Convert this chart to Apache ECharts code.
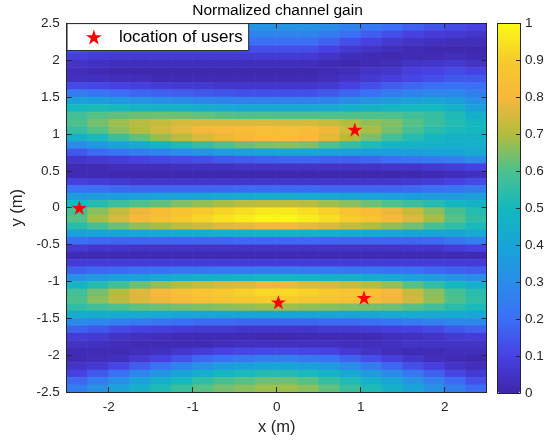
<!DOCTYPE html>
<html>
<head>
<meta charset="utf-8">
<script src="https://cdn.jsdelivr.net/npm/echarts@6/dist/echarts.min.js"></script>
<style>
html,body{margin:0;padding:0;background:#fff;}
#chart{width:555px;height:441px;}
</style>
</head>
<body>
<div id="chart"></div>
<script>
// ---- grid of the image (cell centres) ----
const xCenters = [-2.375,-2.125,-1.875,-1.625,-1.375,-1.125,-0.875,-0.625,-0.375,-0.125,0.125,0.375,0.625,0.875,1.125,1.375,1.625,1.875,2.125,2.375];
const yCenters = [2.45,2.35,2.25,2.15,2.05,1.95,1.85,1.75,1.65,1.55,1.45,1.35,1.25,1.15,1.05,0.95,0.85,0.75,0.65,0.55,0.45,0.35,0.25,0.15,0.05,-0.05,-0.15,-0.25,-0.35,-0.45,-0.55,-0.65,-0.75,-0.85,-0.95,-1.05,-1.15,-1.25,-1.35,-1.45,-1.55,-1.65,-1.75,-1.85,-1.95,-2.05,-2.15,-2.25,-2.35,-2.45];

// ---- normalized gain read column by column (top row y=2.45 to bottom row y=-2.45) ----
const gainXm2375 = [.28,.25,.2,.15,.09,.05,.03, .04,.12,.24,.38,.5,.58,.6,.56,.46,.3,.15,.06,.02, .02,.09,.21,.35,.49,.59,.61,.54,.38,.2,.07, .02,.08,.17,.32,.48,.58,.6,.55,.44,.3,.17,.08, .05,.02,.02,.05,.1,.18,.25];
const gainXm2125 = [.3,.26,.2,.14,.08,.04,.02, .04,.11,.22,.37,.51,.61,.64,.61,.51,.35,.19,.07,.02, .02,.08,.2,.36,.53,.66,.69,.59,.39,.19,.06, .02,.08,.18,.35,.53,.64,.66,.58,.44,.28,.15,.07, .04,.02,.03,.07,.15,.24,.32];
const gainXm1875 = [.31,.26,.2,.13,.07,.03,.01, .03,.1,.2,.35,.5,.62,.68,.66,.57,.4,.22,.08,.03, .01,.07,.19,.37,.57,.72,.75,.63,.4,.18,.06, .02,.08,.19,.38,.58,.7,.71,.6,.43,.26,.12,.05, .03,.02,.04,.11,.21,.31,.39];
const gainXm1625 = [.33,.27,.2,.13,.07,.03,.01, .03,.09,.18,.33,.48,.63,.71,.7,.62,.44,.25,.1,.03, .01,.06,.18,.38,.6,.78,.81,.67,.41,.18,.05, .02,.08,.2,.4,.63,.76,.76,.62,.43,.24,.1,.04, .02,.03,.07,.16,.28,.38,.46];
const gainXm1375 = [.33,.27,.2,.13,.07,.03,.01, .02,.08,.17,.31,.47,.63,.73,.74,.67,.48,.27,.11,.03, .01,.06,.18,.39,.62,.82,.85,.69,.42,.18,.05, .02,.08,.21,.42,.67,.8,.79,.63,.42,.22,.09,.03, .02,.04,.1,.21,.34,.45,.52];
const gainXm1125 = [.33,.27,.2,.13,.07,.03,.01, .02,.07,.16,.3,.46,.63,.75,.77,.71,.52,.3,.12,.04, .01,.06,.18,.4,.65,.86,.89,.72,.43,.18,.05, .02,.08,.22,.44,.7,.84,.83,.64,.41,.2,.08,.02, .02,.06,.14,.27,.4,.5,.57];
const gainXm0875 = [.33,.27,.2,.13,.07,.03,.01, .02,.07,.15,.28,.44,.62,.76,.8,.75,.56,.33,.13,.04, .01,.06,.18,.41,.67,.89,.92,.74,.44,.18,.05, .02,.08,.22,.46,.73,.87,.85,.65,.41,.19,.07,.02, .02,.08,.18,.32,.45,.55,.61];
const gainXm0625 = [.33,.27,.2,.13,.07,.03,.01, .02,.06,.14,.27,.42,.61,.76,.81,.78,.6,.36,.15,.04, .01,.06,.18,.42,.69,.92,.95,.77,.45,.18,.05, .02,.08,.23,.47,.75,.89,.87,.66,.41,.19,.07,.02, .03,.1,.21,.36,.49,.59,.64];
const gainXm0375 = [.33,.27,.2,.13,.07,.03,.01, .02,.06,.13,.26,.41,.6,.76,.83,.81,.63,.38,.16,.05, .01,.06,.19,.43,.71,.94,.97,.78,.46,.19,.05, .02,.08,.23,.48,.76,.91,.88,.67,.41,.18,.06,.02, .04,.11,.23,.38,.51,.61,.66];
const gainXm0125 = [.33,.27,.2,.13,.07,.03,.01, .02,.06,.13,.26,.41,.6,.76,.84,.83,.65,.4,.17,.05, .01,.06,.19,.44,.72,.96,.99,.8,.47,.19,.05, .02,.08,.24,.49,.78,.93,.9,.68,.41,.18,.06,.01, .04,.12,.25,.4,.53,.63,.68];
const gainXp0125 = [.33,.27,.2,.13,.07,.03,.01, .02,.06,.13,.26,.41,.6,.75,.84,.84,.66,.41,.18,.05, .01,.06,.19,.44,.72,.96,.99,.8,.47,.19,.05, .02,.08,.24,.49,.78,.93,.9,.68,.41,.18,.06,.01, .04,.12,.25,.4,.53,.63,.68];
const gainXp0375 = [.33,.27,.2,.13,.07,.03,.01, .02,.06,.13,.26,.41,.6,.75,.83,.82,.65,.41,.18,.05, .01,.06,.19,.43,.71,.94,.97,.78,.46,.19,.05, .02,.08,.23,.48,.76,.91,.88,.67,.41,.18,.06,.02, .04,.11,.23,.38,.51,.61,.66];
const gainXp0625 = [.31,.24,.17,.1,.05,.02,.02, .03,.07,.15,.27,.42,.6,.73,.79,.77,.6,.39,.17,.05, .01,.06,.18,.42,.68,.91,.94,.76,.45,.18,.05, .02,.08,.23,.47,.75,.89,.87,.66,.41,.19,.07,.02, .04,.1,.21,.35,.47,.56,.62];
const gainXp0875 = [.27,.2,.13,.07,.03,.01,.03, .05,.1,.18,.3,.45,.6,.7,.74,.7,.56,.38,.17,.05, .01,.06,.18,.4,.66,.87,.9,.73,.43,.18,.05, .02,.08,.22,.46,.73,.87,.85,.65,.41,.19,.07,.02, .03,.07,.17,.3,.42,.52,.57];
const gainXp1125 = [.23,.16,.1,.05,.02,.02,.05, .07,.13,.21,.33,.47,.6,.67,.69,.64,.52,.37,.18,.05, .01,.06,.18,.39,.63,.83,.86,.7,.42,.18,.05, .02,.08,.22,.44,.7,.84,.83,.64,.41,.2,.08,.02, .03,.05,.13,.24,.36,.46,.52];
const gainXp1375 = [.2,.13,.07,.03,.01,.03,.06, .09,.16,.24,.36,.49,.6,.65,.64,.58,.48,.37,.2,.06, .01,.06,.18,.38,.6,.78,.81,.67,.41,.18,.05, .02,.08,.21,.42,.67,.8,.79,.63,.42,.22,.09,.03, .04,.03,.09,.18,.3,.4,.46];
const gainXp1625 = [.17,.1,.05,.02,.02,.05,.09, .11,.18,.27,.38,.5,.58,.61,.59,.53,.47,.38,.22,.06, .01,.07,.19,.37,.57,.73,.76,.64,.4,.18,.06, .02,.08,.2,.39,.61,.73,.74,.61,.43,.24,.1,.04, .05,.02,.06,.13,.23,.33,.39];
const gainXp1875 = [.14,.08,.04,.01,.02,.06,.1, .13,.2,.28,.4,.5,.56,.57,.54,.49,.46,.39,.24,.07, .02,.08,.2,.36,.53,.66,.69,.59,.39,.19,.06, .02,.08,.18,.36,.55,.66,.67,.58,.42,.26,.12,.05, .05,.02,.03,.09,.17,.26,.32];
const gainXp2125 = [.12,.07,.03,.01,.03,.07,.12, .15,.21,.28,.37,.46,.52,.53,.51,.47,.45,.4,.26,.08, .03,.1,.22,.36,.49,.59,.61,.55,.4,.22,.08, .02,.08,.17,.33,.5,.59,.6,.54,.42,.28,.15,.07, .05,.03,.02,.05,.11,.19,.25];
const gainXp2375 = [.1,.06,.03,.01,.02,.05,.1, .15,.2,.25,.31,.38,.45,.5,.5,.47,.45,.42,.3,.1, .04,.12,.24,.37,.47,.53,.55,.51,.42,.26,.1, .02,.08,.16,.3,.45,.54,.55,.51,.41,.29,.17,.08, .05,.03,.01,.03,.07,.13,.19];

const gainColumns = [gainXm2375,gainXm2125,gainXm1875,gainXm1625,gainXm1375,gainXm1125,gainXm0875,gainXm0625,gainXm0375,gainXm0125,
                     gainXp0125,gainXp0375,gainXp0625,gainXp0875,gainXp1125,gainXp1375,gainXp1625,gainXp1875,gainXp2125,gainXp2375];

// ---- user locations ----
const userX = [0.93, 0.02, 1.04, -2.35];
const userY = [1.06, -1.28, -1.22, 0.0];

// ---- tick labels ----
const xTicks = [-2, -1, 0, 1, 2];

// ---- colormap (parula) ----
const parula = ['#3e26a8','#4741e3','#3b6ff5','#2a8ce9','#18a5d6','#14b8bf','#4cc18e','#b2bd3e','#f7b73b','#f7cb2c','#f9fb15'];

const heatData = [];
gainColumns.forEach((col, i) => col.forEach((v, j) => heatData.push([i, j, v])));
const users = userX.map((x, i) => [x, userY[i]]);

const STAR = 'path://M100 0 L122.45 69.1 L195.1 69.1 L136.3 111.8 L158.8 180.9 L100 138.2 L41.2 180.9 L63.7 111.8 L4.9 69.1 L77.55 69.1 Z';
const FONT = 'Liberation Sans, Arial, Helvetica, sans-serif';
const AX = '#262626';
const tickFont = { fontFamily: FONT, fontSize: 13.5, color: AX };
const boxLine = { show: true, onZero: false, lineStyle: { color: AX, width: 1 } };

const G = { left: 66.7, top: 23.3, width: 420, height: 370 };
const CB = { left: 497.7, top: 23.3, width: 22.3, height: 370 };

const chart = echarts.init(document.getElementById('chart'), null, { renderer: 'canvas' });
chart.setOption({
  animation: false,
  backgroundColor: '#ffffff',
  title: {
    text: 'Normalized channel gain', left: 'center', top: 3, padding: 0,
    textStyle: { fontFamily: FONT, fontSize: 15.5, fontWeight: 'normal', color: '#000' }
  },
  legend: {
    left: 67, top: 23.6, orient: 'vertical',
    padding: [5, 6, 5, 19], itemWidth: 40, itemHeight: 15, itemGap: 0,
    backgroundColor: '#ffffff', borderColor: AX, borderWidth: 1, borderRadius: 0,
    textStyle: { fontFamily: FONT, fontSize: 17, color: '#000' },
    data: ['location of users'], selectedMode: false, z: 20
  },
  grid: [
    { left: G.left, top: G.top, width: G.width, height: G.height, containLabel: false },
    { left: CB.left, top: CB.top, width: CB.width, height: CB.height, containLabel: false }
  ],
  visualMap: {
    type: 'continuous', seriesIndex: 0, min: 0, max: 1,
    calculable: false, show: true, orient: 'vertical',
    left: CB.left, top: CB.top, itemWidth: CB.width, itemHeight: CB.height,
    padding: 0, text: null, hoverLink: false,
    inRange: { color: parula }
  },
  xAxis: [
    { gridIndex: 0, type: 'category', data: xCenters, show: false, boundaryGap: true },
    { gridIndex: 0, type: 'value', position: 'bottom', min: -2.5, max: 2.5, z: 10,
      name: 'x (m)', nameLocation: 'middle', nameGap: 26,
      nameTextStyle: { fontFamily: FONT, fontSize: 16.5, color: AX },
      axisLine: boxLine,
      axisTick: { show: true, inside: true, length: 5, customValues: xTicks, lineStyle: { color: AX } },
      axisLabel: { show: true, margin: 8, customValues: xTicks, ...tickFont },
      splitLine: { show: false } },
    { gridIndex: 0, type: 'value', position: 'top', min: -2.5, max: 2.5, z: 10,
      axisLine: boxLine,
      axisTick: { show: true, inside: true, length: 5, customValues: xTicks, lineStyle: { color: AX } },
      axisLabel: { show: false }, splitLine: { show: false } },
    { gridIndex: 1, type: 'value', position: 'bottom', min: 0, max: 1, z: 10,
      axisLine: boxLine, axisTick: { show: false }, axisLabel: { show: false }, splitLine: { show: false } },
    { gridIndex: 1, type: 'value', position: 'top', min: 0, max: 1, z: 10,
      axisLine: boxLine, axisTick: { show: false }, axisLabel: { show: false }, splitLine: { show: false } }
  ],
  yAxis: [
    { gridIndex: 0, type: 'category', data: yCenters, inverse: true, show: false, boundaryGap: true },
    { gridIndex: 0, type: 'value', position: 'left', min: -2.5, max: 2.5, interval: 0.5, z: 10,
      name: 'y (m)', nameLocation: 'middle', nameGap: 35, nameRotate: 90,
      nameTextStyle: { fontFamily: FONT, fontSize: 16.5, color: AX },
      axisLine: boxLine,
      axisTick: { show: true, inside: true, length: 5, lineStyle: { color: AX } },
      axisLabel: { show: true, margin: 7, ...tickFont },
      splitLine: { show: false } },
    { gridIndex: 0, type: 'value', position: 'right', min: -2.5, max: 2.5, interval: 0.5, z: 10,
      axisLine: boxLine,
      axisTick: { show: true, inside: true, length: 5, lineStyle: { color: AX } },
      axisLabel: { show: false }, splitLine: { show: false } },
    { gridIndex: 1, type: 'value', position: 'right', min: 0, max: 1, interval: 0.1, z: 10,
      axisLine: boxLine,
      axisTick: { show: true, inside: true, length: 4, lineStyle: { color: AX } },
      axisLabel: { show: true, margin: 5, ...tickFont },
      splitLine: { show: false } },
    { gridIndex: 1, type: 'value', position: 'left', min: 0, max: 1, z: 10,
      axisLine: boxLine, axisTick: { show: false }, axisLabel: { show: false }, splitLine: { show: false } }
  ],
  series: [
    { type: 'heatmap', xAxisIndex: 0, yAxisIndex: 0, data: heatData, progressive: 0,
      itemStyle: { borderWidth: 0 }, emphasis: { disabled: true }, silent: true, z: 1 },
    { type: 'scatter', name: 'location of users', xAxisIndex: 1, yAxisIndex: 1, data: users,
      symbol: STAR, symbolSize: 15, symbolKeepAspect: true,
      itemStyle: { color: '#ff0000', opacity: 1 }, z: 12, silent: true }
  ]
});
</script>
</body>
</html>
